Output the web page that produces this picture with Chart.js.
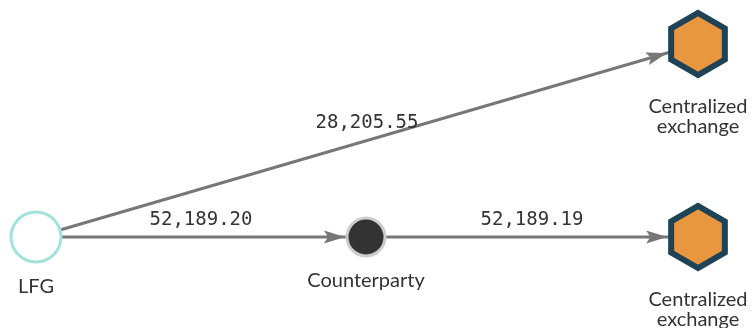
<!DOCTYPE html>
<html>
<head>
<meta charset="utf-8">
<script src="https://cdn.jsdelivr.net/npm/chart.js@4.4.1/dist/chart.umd.min.js"></script>
<style>
  html, body { margin: 0; padding: 0; background: #fff; }
  #wrap { width: 752px; height: 328px; }
</style>
</head>
<body>
<div id="wrap"><canvas id="flowGraph" width="752" height="328"></canvas></div>
<script>
// graph data
const nodeNames = ["LFG", "Counterparty", "Centralized\nexchange", "Centralized\nexchange"];
const nodeKinds = ["source", "wallet", "exchange", "exchange"];
const edgeFrom = [0, 0, 1];
const edgeTo = [2, 1, 3];
const edgeAmounts = ["28,205.55", "52,189.20", "52,189.19"];

// layout (pixel space of the plot)
const layoutX = [36, 366, 698, 698];
const layoutY = [237, 237, 44, 237];

const EDGE_COLOR = "#777777";
const TEXT_COLOR = "#333333";

function hexImage(r, line, fill, stroke) {
  const size = Math.ceil((r + line) * 2);
  const c = document.createElement("canvas");
  c.width = size;
  c.height = size;
  const g = c.getContext("2d");
  g.beginPath();
  for (let i = 0; i < 6; i++) {
    const a = Math.PI / 2 + (i * Math.PI) / 3;
    const x = size / 2 + r * Math.cos(a);
    const y = size / 2 + r * Math.sin(a);
    if (i === 0) g.moveTo(x, y);
    else g.lineTo(x, y);
  }
  g.closePath();
  g.fillStyle = fill;
  g.fill();
  g.lineWidth = line;
  g.strokeStyle = stroke;
  g.lineJoin = "miter";
  g.stroke();
  return c;
}

const hex = hexImage(31, 6, "#e8973f", "#1e4256");

const nodeStyle = {
  source: { radius: 25, bg: "#ffffff", border: "#a3e2dc", bw: 3, hit: 25, labelGap: 25 },
  wallet: { radius: 19, bg: "#333333", border: "#cccccc", bw: 3, hit: 20, labelGap: 25 },
  exchange: { radius: 34, bg: "#e8973f", border: "#1e4256", bw: 0, hit: 29.8, labelGap: 29 },
};

const nodePoints = nodeNames.map((n, i) => ({ x: layoutX[i], y: layoutY[i] }));

const edgeSets = edgeFrom.map((f, i) => ({
  type: "line",
  label: edgeAmounts[i],
  data: [nodePoints[f], nodePoints[edgeTo[i]]],
  borderColor: EDGE_COLOR,
  borderWidth: 3,
  pointRadius: 0,
  fill: false,
}));

const graphDecor = {
  id: "graphDecor",
  afterDatasetsDraw(chart) {
    const { ctx, scales } = chart;
    const px = (i) => scales.x.getPixelForValue(layoutX[i]);
    const py = (i) => scales.y.getPixelForValue(layoutY[i]);
    ctx.save();

    // arrow heads and amount labels
    edgeFrom.forEach((f, i) => {
      const t = edgeTo[i];
      const x1 = px(f), y1 = py(f), x2 = px(t), y2 = py(t);
      const ang = Math.atan2(y2 - y1, x2 - x1);
      const st = nodeStyle[nodeKinds[t]];
      let d = st.hit + 1;
      if (nodeKinds[t] === "exchange") d = st.hit / Math.cos(ang) + 1;
      const tx = x2 - d * Math.cos(ang);
      const ty = y2 - d * Math.sin(ang);
      const len = 21, half = 6.5, notch = 4;
      ctx.save();
      ctx.translate(tx, ty);
      ctx.rotate(ang);
      ctx.beginPath();
      ctx.moveTo(0, 0);
      ctx.lineTo(-len, -half);
      ctx.lineTo(-len + notch, 0);
      ctx.lineTo(-len, half);
      ctx.closePath();
      ctx.fillStyle = EDGE_COLOR;
      ctx.fill();
      ctx.restore();

      ctx.font = '19px "DejaVu Sans Mono", monospace';
      ctx.fillStyle = TEXT_COLOR;
      ctx.textAlign = "center";
      ctx.textBaseline = "middle";
      ctx.fillText(edgeAmounts[i], (x1 + x2) / 2, (y1 + y2) / 2 - 17);
    });

    // node labels
    ctx.font = '20px Lato, "Noto Sans", sans-serif';
    ctx.fillStyle = TEXT_COLOR;
    ctx.textAlign = "center";
    ctx.textBaseline = "middle";
    nodeNames.forEach((name, i) => {
      const st = nodeStyle[nodeKinds[i]];
      const lines = name.split("\n");
      lines.forEach((ln, k) => {
        ctx.fillText(ln, px(i), py(i) + st.radius + st.labelGap + k * 20);
      });
    });
    ctx.restore();
  },
};

new Chart(document.getElementById("flowGraph"), {
  type: "scatter",
  data: {
    datasets: [
      {
        label: "nodes",
        data: nodePoints,
        pointStyle: (c) => (nodeKinds[c.dataIndex] === "exchange" ? hex : "circle"),
        pointRadius: (c) => nodeStyle[nodeKinds[c.dataIndex]].radius,
        pointBackgroundColor: (c) => nodeStyle[nodeKinds[c.dataIndex]].bg,
        pointBorderColor: (c) => nodeStyle[nodeKinds[c.dataIndex]].border,
        pointBorderWidth: (c) => nodeStyle[nodeKinds[c.dataIndex]].bw,
        pointHoverRadius: (c) => nodeStyle[nodeKinds[c.dataIndex]].radius,
      },
      ...edgeSets,
    ],
  },
  options: {
    responsive: false,
    animation: false,
    layout: { padding: 0, autoPadding: false },
    plugins: {
      legend: { display: false },
      tooltip: { enabled: false },
    },
    scales: {
      x: { type: "linear", min: 0, max: 752, display: false },
      y: { type: "linear", min: 0, max: 328, reverse: true, display: false },
    },
  },
  plugins: [graphDecor],
});
</script>
</body>
</html>
